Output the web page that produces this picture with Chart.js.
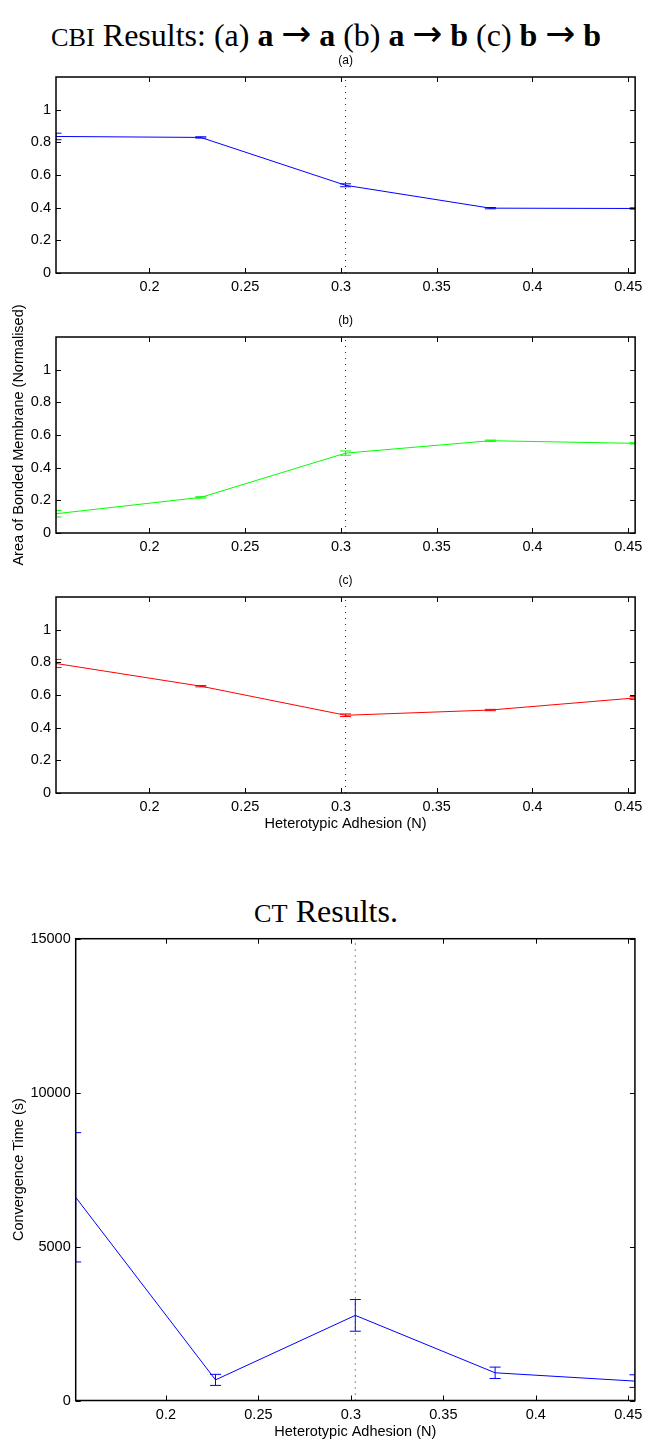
<!DOCTYPE html>
<html>
<head>
<meta charset="utf-8">
<script src="https://cdn.jsdelivr.net/npm/chart.js@4.4.1/dist/chart.umd.min.js"></script>
<style>
  html, body { margin: 0; padding: 0; background: #fff; }
  body { width: 648px; height: 1441px; position: relative; overflow: hidden; }
  canvas { position: absolute; left: 0; }
  .ttl {
    position: absolute; left: 0; width: 652px; text-align: center;
    font-family: "Liberation Serif", "Times New Roman", serif;
    font-size: 32px; line-height: 32px; color: #000; white-space: nowrap;
  }
  .sc { font-size: 0.82em; }
  .ar { font-family: "DejaVu Sans", sans-serif; font-size: 36px; line-height: 0; margin: 0 7.8px; }
</style>
</head>
<body>
<div class="ttl" style="top:19px"><span class="sc">CBI</span> Results: (a) <b>a</b><span class="ar">→</span><b>a</b> (b) <b>a</b><span class="ar">→</span><b>b</b> (c) <b>b</b><span class="ar">→</span><b>b</b></div>
<canvas id="chartA" width="648" height="250" style="top:50px"></canvas>
<canvas id="chartB" width="648" height="300" style="top:280px"></canvas>
<canvas id="chartC" width="648" height="270" style="top:570px"></canvas>
<div class="ttl" style="top:895px"><span class="sc">CT</span> Results.</div>
<canvas id="chartCT" width="648" height="516" style="top:925px"></canvas>

<script>
// Heterotypic adhesion values (N) at which the simulations were run
const adhesion = [0.1512, 0.2268, 0.3024, 0.378, 0.4536];
// Critical adhesion marked by the dotted vertical line
const criticalAdhesion = [0.3024];

// CBI: normalised area of bonded membrane, mean and error
const areaAA = [0.836, 0.830, 0.537, 0.397, 0.395];
const errAA  = [0.020, 0.004, 0.009, 0.004, 0.004];
const areaAB = [0.118, 0.218, 0.489, 0.565, 0.549];
const errAB  = [0.020, 0.004, 0.013, 0.004, 0.004];
const areaBB = [0.793, 0.654, 0.476, 0.508, 0.582];
const errBB  = [0.025, 0.004, 0.008, 0.004, 0.009];

// CT: convergence time (s), mean and error
const convTime = [6600, 670, 2765, 900, 630];
const convErr  = [2100, 180, 515, 185, 205];

// Tick values
const xTicks = [0.2, 0.25, 0.3, 0.35, 0.4, 0.45];
const areaTicks = [0, 0.2, 0.4, 0.6, 0.8, 1];
const areaMax = 1.2;
const timeTicks = [0, 5000, 10000, 15000];
const timeMax = 15000;

const SANS = '"Liberation Sans", Arial, Helvetica, sans-serif';
const FONT_SIZE = 14.5;
const CAP = 5.5;     // half width of error bar caps
const TICK_LEN = 5;  // inward tick length

// Error bars, clipped to the plotting area like the lines themselves
const errorBarPlugin = {
  id: 'errorBars',
  afterDatasetsDraw(chart) {
    const { ctx, chartArea: a, scales: { x, y } } = chart;
    ctx.save();
    ctx.beginPath();
    ctx.rect(a.left, a.top, a.right - a.left, a.bottom - a.top);
    ctx.clip();
    chart.data.datasets.forEach(ds => {
      if (!ds.errorBars) return;
      ctx.strokeStyle = ds.borderColor;
      ctx.lineWidth = 1;
      ds.data.forEach((p, i) => {
        const e = ds.errorBars[i];
        const px = x.getPixelForValue(p.x);
        const yHi = y.getPixelForValue(p.y + e);
        const yLo = y.getPixelForValue(p.y - e);
        ctx.beginPath();
        ctx.moveTo(px, yHi); ctx.lineTo(px, yLo);
        ctx.moveTo(px - CAP, yHi); ctx.lineTo(px + CAP, yHi);
        ctx.moveTo(px - CAP, yLo); ctx.lineTo(px + CAP, yLo);
        ctx.stroke();
      });
    });
    ctx.restore();
  }
};

// Boxed axes with ticks pointing inwards on all four sides
const framePlugin = {
  id: 'frame',
  afterDraw(chart) {
    const { ctx, chartArea: a, scales: { x, y } } = chart;
    ctx.save();
    ctx.strokeStyle = '#000';
    ctx.lineWidth = 1;
    ctx.beginPath();
    x.ticks.forEach(t => {
      const px = Math.round(x.getPixelForValue(t.value)) + 0.5;
      ctx.moveTo(px, a.bottom); ctx.lineTo(px, a.bottom - TICK_LEN);
      ctx.moveTo(px, a.top); ctx.lineTo(px, a.top + TICK_LEN);
    });
    y.ticks.forEach(t => {
      const py = Math.round(y.getPixelForValue(t.value)) + 0.5;
      ctx.moveTo(a.left, py); ctx.lineTo(a.left + TICK_LEN, py);
      ctx.moveTo(a.right, py); ctx.lineTo(a.right - TICK_LEN, py);
    });
    ctx.stroke();
    ctx.lineWidth = 1.5;
    ctx.strokeRect(a.left, a.top, a.right - a.left, a.bottom - a.top);
    ctx.restore();
  }
};

function series(values, errors, color) {
  return {
    data: adhesion.map((x, i) => ({ x, y: values[i] })),
    errorBars: errors,
    borderColor: color,
    borderWidth: 1,
    pointRadius: 0,
    tension: 0,
    fill: false
  };
}

function divider(yMax) {
  return {
    data: [{ x: criticalAdhesion[0], y: 0 }, { x: criticalAdhesion[0], y: yMax }],
    borderColor: '#222',
    borderWidth: 1,
    borderDash: [1, 5],
    pointRadius: 0,
    fill: false
  };
}

function makeChart(id, cfg) {
  const yTickValues = cfg.yTicks;
  return new Chart(document.getElementById(id), {
    type: 'line',
    data: { datasets: [divider(cfg.yMax), series(cfg.values, cfg.errors, cfg.color)] },
    options: {
      responsive: false,
      animation: false,
      events: [],
      devicePixelRatio: 1,
      layout: { padding: { top: cfg.padTop, right: cfg.padRight, left: 0, bottom: 0 } },
      plugins: {
        legend: { display: false },
        tooltip: { enabled: false },
        title: cfg.title ? {
          display: true,
          text: cfg.title,
          fullSize: false,
          color: '#000',
          font: { family: SANS, size: 12, weight: 'normal' },
          padding: { top: 3.8, bottom: 8.8 }
        } : { display: false }
      },
      scales: {
        x: {
          type: 'linear',
          min: adhesion[0],
          max: adhesion[adhesion.length - 1],
          afterBuildTicks: s => { s.ticks = xTicks.map(v => ({ value: v })); },
          afterFit: s => { s.height = cfg.xHeight; },
          grid: { display: false, drawTicks: false },
          border: { display: false },
          ticks: {
            color: '#000', padding: 5.5, autoSkip: false, maxRotation: 0,
            font: { family: SANS, size: FONT_SIZE },
            callback: v => String(v)
          },
          title: cfg.xTitle ? {
            display: true, text: cfg.xTitle, color: '#000',
            font: { family: SANS, size: FONT_SIZE },
            padding: { top: 0, bottom: cfg.xTitlePad }
          } : { display: false }
        },
        y: {
          type: 'linear',
          min: 0,
          max: cfg.yMax,
          afterBuildTicks: s => { s.ticks = yTickValues.map(v => ({ value: v })); },
          afterFit: s => { s.width = cfg.yWidth; },
          grid: { display: false, drawTicks: false },
          border: { display: false },
          ticks: {
            color: '#000', padding: 5,
            font: { family: SANS, size: FONT_SIZE },
            callback: v => String(v)
          },
          title: cfg.yTitle ? {
            display: true, text: cfg.yTitle, color: '#000',
            font: { family: SANS, size: FONT_SIZE },
            padding: { top: 10, bottom: 0 }
          } : { display: false }
        }
      }
    },
    plugins: [errorBarPlugin, framePlugin]
  });
}

const cbiCommon = { yTicks: areaTicks, yMax: areaMax, yWidth: 56, padRight: 11 };

makeChart('chartA', Object.assign({}, cbiCommon, {
  values: areaAA, errors: errAA, color: '#0000ff',
  title: '(a)', padTop: 0, xHeight: 27
}));

makeChart('chartB', Object.assign({}, cbiCommon, {
  values: areaAB, errors: errAB, color: '#00ff00',
  title: '(b)', padTop: 30, xHeight: 47,
  yTitle: 'Area of Bonded Membrane (Normalised)'
}));

makeChart('chartC', Object.assign({}, cbiCommon, {
  values: areaBB, errors: errBB, color: '#ff0000',
  title: '(c)', padTop: 0, xHeight: 47,
  xTitle: 'Heterotypic Adhesion (N)', xTitlePad: 7.3
}));

makeChart('chartCT', {
  values: convTime, errors: convErr, color: '#0000ff',
  yTicks: timeTicks, yMax: timeMax, yWidth: 75.7, padRight: 10.3,
  padTop: 13.5, xHeight: 40.5,
  xTitle: 'Heterotypic Adhesion (N)', xTitlePad: 0.8,
  yTitle: 'Convergence Time (s)'
});
</script>
</body>
</html>
